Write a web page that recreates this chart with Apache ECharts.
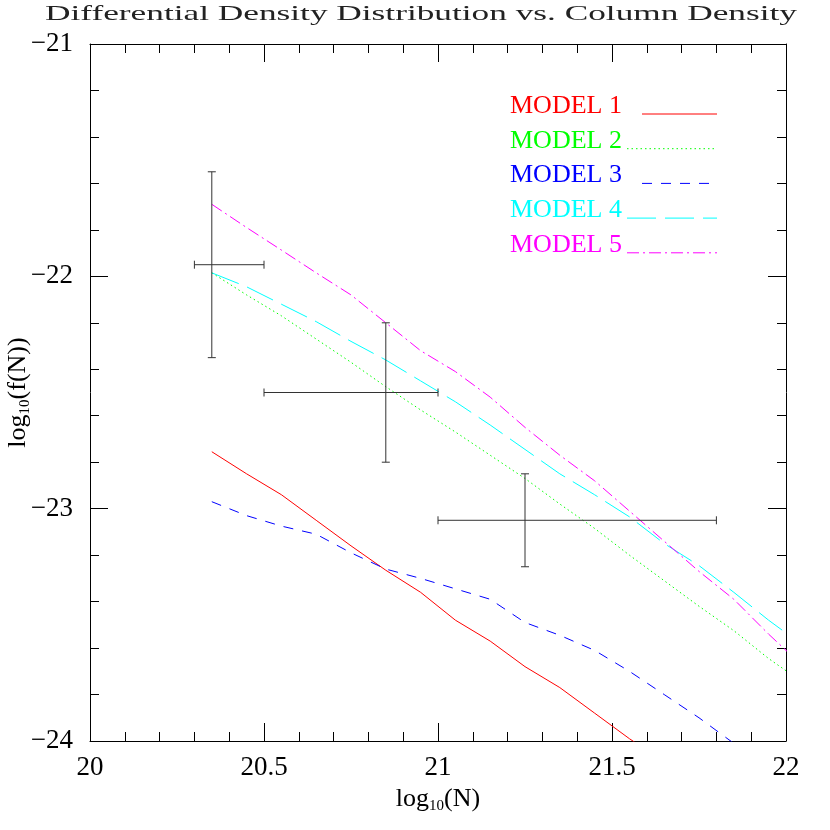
<!DOCTYPE html>
<html>
<head>
<meta charset="utf-8">
<script src="https://cdn.jsdelivr.net/npm/echarts@6/dist/echarts.min.js"></script>
<style>
  html, body { margin: 0; padding: 0; background: #fff; }
  #main { width: 830px; height: 830px; }
</style>
</head>
<body>
<div id="main"></div>
<script>
var FONT = "Liberation Serif";

// log10(N) grid shared by all models
var logN = [20.35, 20.45, 20.55, 20.65, 20.75, 20.85, 20.95, 21.05, 21.15, 21.25,
            21.35, 21.45, 21.55, 21.65, 21.75, 21.85, 21.95, 22.05];

var model1 = [-22.755, -22.85, -22.94, -23.05, -23.16, -23.265, -23.36, -23.48, -23.57, -23.68,
              -23.77, -23.88, -23.99, -24.09];
var model2 = [-21.985, -22.08, -22.17, -22.27, -22.37, -22.475, -22.575, -22.67, -22.77, -22.87,
              -22.98, -23.085, -23.20, -23.31, -23.42, -23.525, -23.645, -23.75];
var model3 = [-22.97, -23.03, -23.075, -23.11, -23.19, -23.26, -23.30, -23.345, -23.39, -23.49,
              -23.545, -23.61, -23.70, -23.80, -23.90, -24.01];
var model4 = [-21.985, -22.045, -22.12, -22.195, -22.28, -22.36, -22.45, -22.54, -22.64, -22.745,
              -22.85, -22.94, -23.035, -23.15, -23.245, -23.36, -23.48, -23.59];
var model5 = [-21.69, -21.79, -21.887, -21.985, -22.08, -22.20, -22.32, -22.41, -22.52, -22.65,
              -22.77, -22.88, -23.01, -23.14, -23.27, -23.39, -23.54, -23.68];

// observed points with error ranges
var obsX   = [20.35, 20.85, 21.25];
var obsY   = [-21.95, -22.5, -23.05];
var obsXlo = [20.3, 20.5, 21.0];
var obsXhi = [20.5, 21.0, 21.8];
var obsYlo = [-22.35, -22.8, -23.25];
var obsYhi = [-21.55, -22.2, -22.85];

var names  = ["MODEL 1", "MODEL 2", "MODEL 3", "MODEL 4", "MODEL 5"];
var colors = ["#ff0000", "#00ff00", "#0000ff", "#00ffff", "#ff00ff"];
var dashes = ["solid", [1.5, 3], [10, 9], [29, 9], [12, 4, 2, 4]];
var models = [model1, model2, model3, model4, model5];

function pairs(vals) {
  return vals.map(function (v, i) { return [logN[i], v]; });
}

var chart = echarts.init(document.getElementById("main"));

var titleText = "Differential Density Distribution vs. Column Density";

var axisCommon = {
  axisLine: { show: true, lineStyle: { color: "#000", width: 1 } },
  axisTick: { show: true, inside: true, length: 18, lineStyle: { color: "#000" } },
  minorTick: { show: true, splitNumber: 5, length: 9, lineStyle: { color: "#000" } },
  splitLine: { show: false },
  minorSplitLine: { show: false }
};

function xAx(pos, labels) {
  return Object.assign({
    type: "value", min: 20, max: 22, interval: 0.5, position: pos,
    axisLabel: {
      show: labels, fontFamily: FONT, fontSize: 27, color: "#000", margin: 13,
      formatter: function (v) { return String(v); }
    }
  }, axisCommon);
}

function yAx(pos, labels) {
  return Object.assign({
    type: "value", min: -24, max: -21, interval: 1, position: pos,
    axisLabel: {
      show: labels, fontFamily: FONT, fontSize: 27, color: "#000", margin: 17,
      formatter: function (v) { return "\u2212" + Math.abs(v); }
    }
  }, axisCommon);
}

var nameRich = {
  a: { fontFamily: FONT, fontSize: 26, color: "#000" },
  b: { fontFamily: FONT, fontSize: 15, color: "#000", padding: [14, 0, 0, 0] }
};

var xMain = xAx("bottom", true);
xMain.name = "{a|log}{b|10}{a|(N)}";
xMain.nameLocation = "middle";
xMain.nameGap = 44;
xMain.nameMoveOverlap = false;
xMain.nameTextStyle = { rich: nameRich };

var yMain = yAx("left", true);
yMain.name = "{a|log}{b|10}{a|(f(N))}";
yMain.nameLocation = "middle";
yMain.nameGap = 57;
yMain.nameRotate = 90;
yMain.nameMoveOverlap = false;
yMain.nameTextStyle = { rich: nameRich };

var series = models.map(function (m, i) {
  return {
    name: names[i],
    type: "line",
    data: pairs(m),
    symbol: "none",
    showSymbol: false,
    clip: true,
    silent: true,
    lineStyle: { color: colors[i], width: 1, type: dashes[i] },
    z: 3
  };
});

series.push({
  name: "obs",
  type: "custom",
  silent: true,
  z: 4,
  data: obsX.map(function (x, i) {
    return [x, obsY[i], obsXlo[i], obsXhi[i], obsYlo[i], obsYhi[i]];
  }),
  renderItem: function (params, api) {
    var c = api.coord([api.value(0), api.value(1)]);
    var l = api.coord([api.value(2), api.value(1)]);
    var r = api.coord([api.value(3), api.value(1)]);
    var b = api.coord([api.value(0), api.value(4)]);
    var t = api.coord([api.value(0), api.value(5)]);
    var cap = 4;
    var st = { stroke: "#333", lineWidth: 1 };
    function ln(x1, y1, x2, y2) {
      return { type: "line", shape: { x1: x1, y1: y1, x2: x2, y2: y2 }, style: st };
    }
    return {
      type: "group",
      children: [
        ln(l[0], c[1], r[0], c[1]),
        ln(l[0], c[1] - cap, l[0], c[1] + cap),
        ln(r[0], c[1] - cap, r[0], c[1] + cap),
        ln(c[0], t[1], c[0], b[1]),
        ln(c[0] - cap, t[1], c[0] + cap, t[1]),
        ln(c[0] - cap, b[1], c[0] + cap, b[1])
      ]
    };
  }
});

// legend drawn as text + line sample, placed in the upper right of the frame
var legendStart = [642, 627, 642, 627, 627];
var legendGraphics = [];
names.forEach(function (n, i) {
  var yLine = 114 + 34.7 * i;
  legendGraphics.push({
    type: "text", x: 510, y: yLine - 8,
    style: { text: n, font: "26px " + FONT, fill: colors[i], align: "left", verticalAlign: "middle" }
  });
  legendGraphics.push({
    type: "line",
    shape: { x1: legendStart[i], y1: yLine, x2: 717, y2: yLine },
    style: {
      stroke: colors[i], lineWidth: 1,
      lineDash: dashes[i] === "solid" ? null : dashes[i]
    }
  });
});

var option = {
  animation: false,
  backgroundColor: "#fff",
  grid: { left: 90, right: 44, top: 44, bottom: 89, containLabel: false, outerBoundsMode: "none" },
  xAxis: [xMain, xAx("top", false)],
  yAxis: [yMain, yAx("right", false)],
  graphic: [{
    type: "text",
    x: 421,
    y: 4,
    scaleX: 1.68,
    style: {
      text: titleText,
      font: "21px " + FONT,
      fill: "#222",
      align: "center",
      verticalAlign: "top"
    }
  }].concat(legendGraphics),
  series: series
};

chart.setOption(option);
</script>
</body>
</html>
